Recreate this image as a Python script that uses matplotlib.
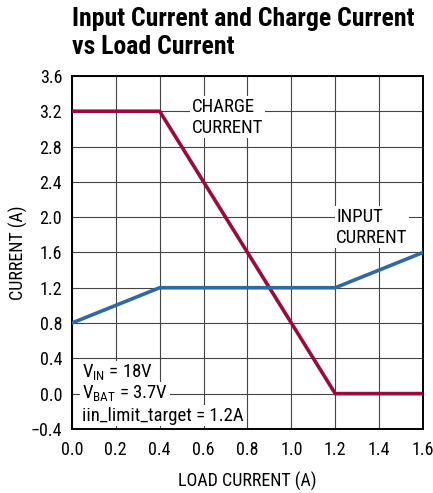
import matplotlib
matplotlib.use("Agg")
import matplotlib.pyplot as plt

plt.rcParams["font.family"] = ["Roboto Condensed", "Archivo Narrow", "Liberation Sans", "DejaVu Sans"]
plt.rcParams["font.size"] = 12

# data
load_current = [0.0, 0.4, 1.2, 1.6]
charge_current = [3.2, 3.2, 0.0, 0.0]
input_current = [0.8, 1.2, 1.2, 1.6]

x_ticks = [0.0, 0.2, 0.4, 0.6, 0.8, 1.0, 1.2, 1.4, 1.6]
y_ticks = [-0.4, 0.0, 0.4, 0.8, 1.2, 1.6, 2.0, 2.4, 2.8, 3.2, 3.6]

fig = plt.figure(figsize=(4.33, 4.93), dpi=100)
ax = fig.add_axes([0.166, 0.130, 0.811, 0.716])

ax.plot(load_current, charge_current, color="#9b0a3c", linewidth=2.6, zorder=3)
ax.plot(load_current, input_current, color="#2f68a3", linewidth=2.6, zorder=3)

ax.set_xlim(0, 1.6)
ax.set_ylim(-0.4, 3.6)
ax.set_xticks(x_ticks)
ax.set_yticks(y_ticks)
ax.set_xticklabels([f"{v:.1f}" for v in x_ticks])
ax.set_yticklabels([f"{v:.1f}".replace("-", "\u2212") for v in y_ticks])
ax.tick_params(axis="x", length=0, pad=9, labelsize=13)
ax.tick_params(axis="y", length=0, pad=7, labelsize=13)
ax.grid(True, color="#444444", linewidth=0.8)
for s in ax.spines.values():
    s.set_linewidth(1.4)

ax.set_xlabel("LOAD CURRENT (A)", fontsize=13, labelpad=9)
ax.set_ylabel("CURRENT (A)", fontsize=13, labelpad=2)

box = dict(facecolor="white", edgecolor="none", pad=1.2)
ax.text(0.545, 3.13, "CHARGE\nCURRENT", fontsize=13.5, va="center", ha="left",
        linespacing=1.2, bbox=box, zorder=4)
ax.text(1.205, 1.885, "INPUT\nCURRENT", fontsize=13.5, va="center", ha="left",
        linespacing=1.2, bbox=box, zorder=4)

# condition notes, one line each so the grid shows between them
ax.text(0.046, 0.178, r"V$_{\mathregular{IN}}$ = 18V", fontsize=13.5, va="baseline",
        bbox=box, zorder=4)
ax.text(0.046, -0.06, r"V$_{\mathregular{BAT}}$ = 3.7V", fontsize=13.5, va="baseline",
        bbox=box, zorder=4)
ax.text(0.046, -0.305, "iin_limit_target = 1.2A", fontsize=13.5, va="baseline",
        bbox=box, zorder=4)

fig.text(0.166, 0.985, "Input Current and Charge Current\nvs Load Current",
         fontsize=18.5, fontweight="bold", va="top", ha="left", linespacing=1.17)

fig.savefig("out.png", dpi=100)
